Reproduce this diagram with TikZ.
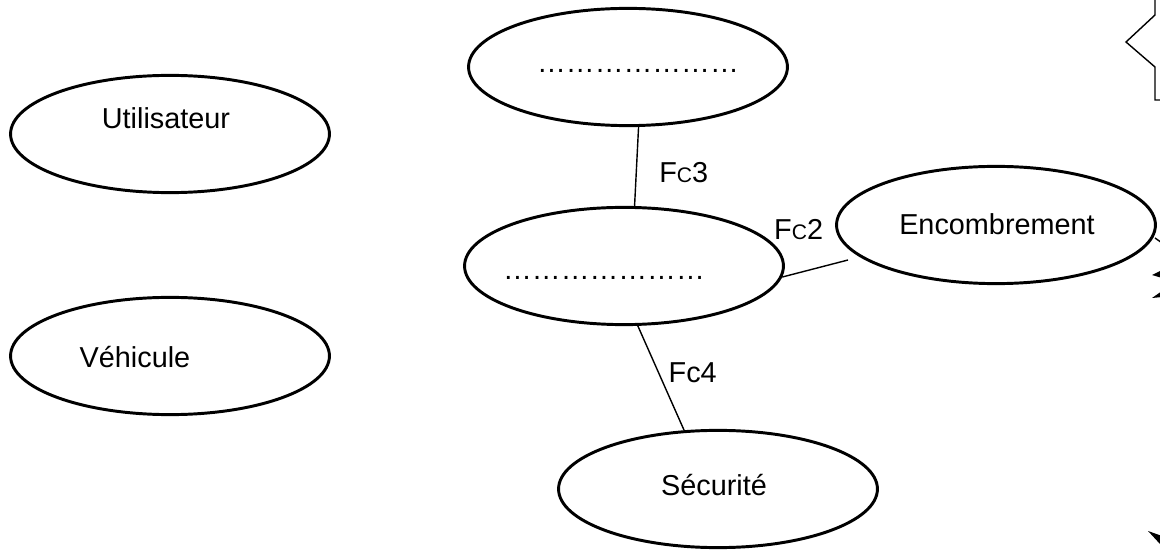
\documentclass[tikz,border=0pt]{standalone}
\usepackage{fontspec}
\setmainfont{Liberation Sans}
\usetikzlibrary{shapes.geometric}
\tikzstyle{blob} = [ellipse, draw=black, line width=2.1pt, minimum width=7.97cm, minimum height=2.93cm, inner sep=0pt]
\tikzstyle{word} = [inner sep=0pt, font=\fontsize{20.5}{24}\selectfont]
\tikzstyle{link} = [line width=1pt]
\newcommand{\smallc}{{\fontsize{15}{18}\selectfont C}}

\begin{document}
\begin{tikzpicture}[x=0.025cm, y=-0.025cm]
   \useasboundingbox (0,0) rectangle (1160,551);
   \clip (0,0) rectangle (1160,551);

   \node (util) [blob] at (170,134) {};
   \node (veh) [blob] at (170,356) {};
   \node (top) [blob] at (628,67) {};
   \node (mid) [blob] at (624,266) {};
   \node (enc) [blob] at (996,225) {};
   \node (sec) [blob] at (718,489) {};

   \node (utiltxt) [word] at (166,118) {Utilisateur};
   \node (vehtxt) [word] at (135,357) {Véhicule};
   \node (toptxt) [word] at (638,71) {…………………};
   \node (midtxt) [word] at (604,278) {…………………};
   \node (enctxt) [word] at (997,224) {Encombrement};
   \node (sectxt) [word] at (714,485) {Sécurité};

   \coordinate (fc2end) at (848,260);
   \draw [link] (top.-80) -- node[word, anchor=west, xshift=0.55cm, yshift=-0.15cm] (fc3) {F\smallc3} (mid.80);
   \draw [link] (mid.-4) -- node[word, anchor=south, xshift=-0.41cm, yshift=0.7cm] (fc2) {F\smallc2} (fc2end);
   \draw [link] (mid.-77) -- node[word, anchor=west, xshift=0.175cm, yshift=0.125cm] (fc4) {Fc4} (sec.120);

   % bits cut off at the right edge
   \draw [link] (1155,-2) -- (1155,15) -- (1126,42) -- (1155,67) -- (1155,100) -- (1170,100);
   \draw [link] (1155,238) -- (1165,245);
   \fill (1152,275) -- (1162,270) -- (1162,278) -- cycle;
   \fill (1152,298) -- (1162,291) -- (1162,297) -- cycle;
   \fill (1148,531) -- (1162,536) -- (1160,544) -- cycle;
\end{tikzpicture}
\end{document}
